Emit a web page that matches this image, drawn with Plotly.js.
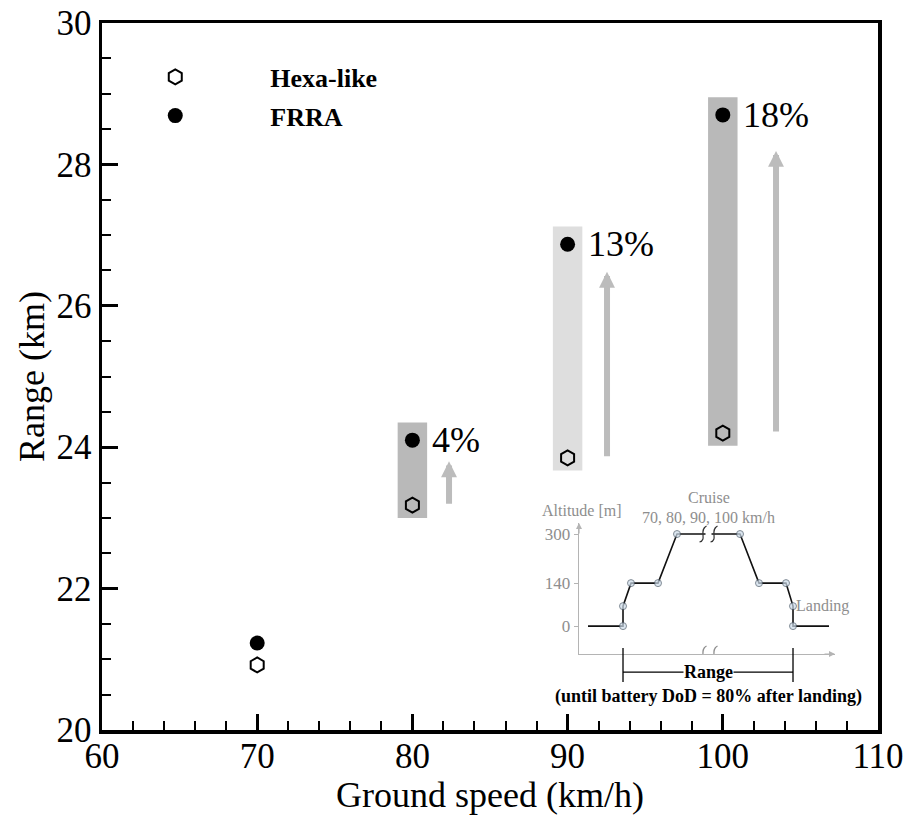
<!DOCTYPE html>
<html>
<head>
<meta charset="utf-8">
<script src="https://cdn.plot.ly/plotly-3.0.1.min.js"></script>
<style>
  html, body { margin: 0; padding: 0; background: #ffffff; }
  #chart { width: 913px; height: 819px; }
</style>
</head>
<body>
<div id="chart"></div>
<script>
// Ground speed (km/h)
const groundSpeed = [70, 80, 90, 100];
// Range (km) reached by each rotor arrangement
const rangeHexa = [20.92, 23.18, 23.85, 24.20];
const rangeFRRA = [21.23, 24.10, 26.87, 28.70];
// Range gain of FRRA over Hexa-like
const gainLabels = ['', '4%', '13%', '18%'];

// Flight profile sketch: schematic distance vs altitude (m)
const profileDist = [9, 44, 44, 52, 79, 98, 161, 180, 207, 214, 214, 250];
const profileAlt  = [0, 0, 65, 140, 140, 300, 300, 140, 140, 65, 0, 0];
const altTicks = [0, 140, 300];

// ---- styling ----
const serif = '"Liberation Serif", serif';
const barFill = ['', '#b9b9b9', '#dedede', '#b9b9b9'];
const arrowDx = [0, 2.36, 2.54, 3.43];   // arrow offset to the right of each bar (km/h)
const arrowGap = [0, 0.30, 0.39, 0.51];  // arrow tip sits this far below the FRRA point (km)
const insetGrey = '#8e8e8e';
const insetAxis = '#b4b4b4';

const traces = [
  {
    name: 'Hexa-like', x: groundSpeed, y: rangeHexa, type: 'scatter', mode: 'markers',
    marker: { symbol: 'hexagon-open', size: 15, color: '#000', line: { width: 2, color: '#000' } },
    legendgroup: 'a', hoverinfo: 'x+y'
  },
  {
    name: 'FRRA', x: groundSpeed, y: rangeFRRA, type: 'scatter', mode: 'markers',
    marker: { symbol: 'circle', size: 15, color: '#000' },
    legendgroup: 'b', hoverinfo: 'x+y'
  },
  {
    x: profileDist, y: profileAlt, xaxis: 'x2', yaxis: 'y2', type: 'scatter', mode: 'lines+markers',
    line: { color: '#111', width: 1.6 },
    marker: {
      size: profileDist.map((d, i) => (i === 0 || i === profileDist.length - 1) ? 0 : 7),
      color: '#cddcea', line: { color: '#4d5b69', width: 1 }
    },
    showlegend: false, hoverinfo: 'skip'
  }
];

const shapes = [];
const annotations = [];

groundSpeed.forEach((s, i) => {
  if (!gainLabels[i]) return;
  // shaded band spanning both configurations
  shapes.push({
    type: 'rect', xref: 'x', yref: 'y', layer: 'below',
    x0: s - 0.95, x1: s + 0.95, y0: rangeHexa[i] - 0.18, y1: rangeFRRA[i] + 0.25,
    fillcolor: barFill[i], line: { width: 0 }
  });
  // percentage gain
  annotations.push({
    xref: 'x', yref: 'y', x: s, y: rangeFRRA[i], xanchor: 'left', yanchor: 'middle',
    xshift: 18, text: gainLabels[i], showarrow: false,
    font: { family: serif, size: 36, color: '#000' }
  });
  // upward arrow from Hexa-like level
  annotations.push({
    xref: 'x', yref: 'y', axref: 'x', ayref: 'y',
    x: s + arrowDx[i], y: rangeFRRA[i] - arrowGap[i],
    ax: s + arrowDx[i], ay: rangeHexa[i],
    text: '', showarrow: true, arrowhead: 2, arrowsize: 0.53, arrowwidth: 6,
    arrowcolor: '#bcbcbc', standoff: 0, startstandoff: 0
  });
});

// ---- flight profile inset ----
const yBot = -91, yTop = 336, xEnd = 256;
const cruiseMid = (profileDist[5] + profileDist[6]) / 2;
const rangeStart = profileDist[1], rangeEnd = profileDist[10];

// axis-break mark: a small white gap crossed by two wavy strokes
function breakMark(xc, yc, color) {
  shapes.push({
    type: 'rect', xref: 'x2', yref: 'y2', xsizemode: 'pixel', ysizemode: 'pixel',
    xanchor: xc, yanchor: yc, x0: -3, x1: 3, y0: -3, y1: 3,
    fillcolor: '#ffffff', line: { width: 0 }
  });
  shapes.push({
    type: 'path', xref: 'x2', yref: 'y2', xsizemode: 'pixel', ysizemode: 'pixel',
    xanchor: xc, yanchor: yc,
    path: 'M-9,-8 C-1,-6 -10,4 -2,8 M2,-8 C10,-6 1,4 9,8',
    line: { color: color, width: 1.2 }
  });
}
breakMark(cruiseMid, 300, '#333333');
breakMark(cruiseMid, yBot, insetGrey);

annotations.push(
  { xref: 'x2', yref: 'y2', x: 0, y: yTop, ax: 0, ay: 12, text: '', showarrow: true,
    arrowhead: 2, arrowsize: 1, arrowwidth: 1.2, arrowcolor: insetAxis },
  { xref: 'x2', yref: 'y2', x: xEnd, y: yBot, ax: -12, ay: 0, text: '', showarrow: true,
    arrowhead: 2, arrowsize: 1, arrowwidth: 1.2, arrowcolor: insetAxis },
  { xref: 'x2', yref: 'y2', x: 3, y: yTop, yshift: 12, text: 'Altitude [m]', showarrow: false,
    font: { family: serif, size: 16, color: insetGrey } },
  { xref: 'x2', yref: 'y2', x: cruiseMid, y: 300, yshift: 37, text: 'Cruise', showarrow: false,
    font: { family: serif, size: 16, color: insetGrey } },
  { xref: 'x2', yref: 'y2', x: cruiseMid, y: 300, yshift: 17, text: '70, 80, 90, 100 km/h', showarrow: false,
    font: { family: serif, size: 16, color: insetGrey } },
  { xref: 'x2', yref: 'y2', x: profileDist[9], y: profileAlt[9], xanchor: 'left', xshift: 1,
    text: 'Landing', showarrow: false, font: { family: serif, size: 16, color: insetGrey } },
  { xref: 'x2', yref: 'paper', x: cruiseMid, y: 0.066, yanchor: 'bottom', text: '<b>Range</b>',
    showarrow: false, bgcolor: '#ffffff', borderpad: 0,
    font: { family: serif, size: 18, color: '#000' } },
  { xref: 'x2', yref: 'paper', x: cruiseMid, y: 0.064, yanchor: 'top',
    text: '<b>(until battery DoD = 80% after landing)</b>', showarrow: false, borderpad: 0,
    font: { family: serif, size: 18, color: '#000' } }
);

shapes.push(
  { type: 'line', xref: 'x2', yref: 'paper', x0: rangeStart, x1: rangeStart, y0: 0.068, y1: 0.116,
    line: { color: '#000', width: 1.3 } },
  { type: 'line', xref: 'x2', yref: 'paper', x0: rangeEnd, x1: rangeEnd, y0: 0.068, y1: 0.116,
    line: { color: '#000', width: 1.3 } },
  { type: 'line', xref: 'x2', yref: 'paper', x0: rangeStart, x1: rangeEnd, y0: 0.082, y1: 0.082,
    line: { color: '#000', width: 1.3 } }
);

const axisFont = { family: serif, size: 35, color: '#000' };

const layout = {
  width: 913, height: 819,
  margin: { l: 102, r: 35, t: 23, b: 89 },
  paper_bgcolor: '#ffffff', plot_bgcolor: '#ffffff',
  font: { family: serif, color: '#000' },
  showlegend: true,
  legend: {
    x: -0.028, y: 0.957, xanchor: 'left', yanchor: 'top',
    bgcolor: 'rgba(0,0,0,0)', borderwidth: 0, itemwidth: 180,
    tracegroupgap: 2, traceorder: 'grouped',
    font: { family: serif, size: 26, weight: 'bold', color: '#000' }
  },
  xaxis: {
    range: [60, 110], tick0: 60, dtick: 10, domain: [0, 1],
    ticks: 'inside', ticklen: 16, tickwidth: 3, tickcolor: '#000',
    minor: { dtick: 2, ticks: 'inside', ticklen: 9, tickwidth: 2, tickcolor: '#000' },
    showline: true, linewidth: 3.5, linecolor: '#000', mirror: true,
    showgrid: false, zeroline: false, automargin: false,
    tickfont: axisFont, ticklabelstandoff: -8,
    title: { text: 'Ground speed (km/h)', font: { family: serif, size: 36, color: '#000' }, standoff: 2 }
  },
  yaxis: {
    range: [20, 30], tick0: 20, dtick: 2, domain: [0, 1],
    ticks: 'inside', ticklen: 16, tickwidth: 3, tickcolor: '#000',
    minor: { dtick: 0.5, ticks: 'inside', ticklen: 9, tickwidth: 2, tickcolor: '#000' },
    showline: true, linewidth: 3.5, linecolor: '#000', mirror: true,
    showgrid: false, zeroline: false, automargin: false,
    tickfont: axisFont, ticklabelstandoff: 0,
    title: { text: 'Range (km)', font: { family: serif, size: 36, color: '#000' }, standoff: 2 }
  },
  xaxis2: {
    domain: [0.6147, 0.9446], anchor: 'y2', range: [0, xEnd],
    showline: true, linecolor: insetAxis, linewidth: 1.3,
    showticklabels: false, ticks: '', showgrid: false, zeroline: false, fixedrange: true
  },
  yaxis2: {
    domain: [0.1075, 0.2928], anchor: 'x2', range: [yBot, yTop],
    showline: true, linecolor: insetAxis, linewidth: 1.3,
    tickvals: altTicks, ticks: 'outside', ticklen: 4, tickcolor: insetAxis, tickwidth: 1,
    tickfont: { family: serif, size: 17, color: insetGrey },
    showgrid: false, zeroline: false, fixedrange: true
  },
  shapes: shapes,
  annotations: annotations
};

Plotly.newPlot('chart', traces, layout, { displayModeBar: false, staticPlot: true });
</script>
</body>
</html>
